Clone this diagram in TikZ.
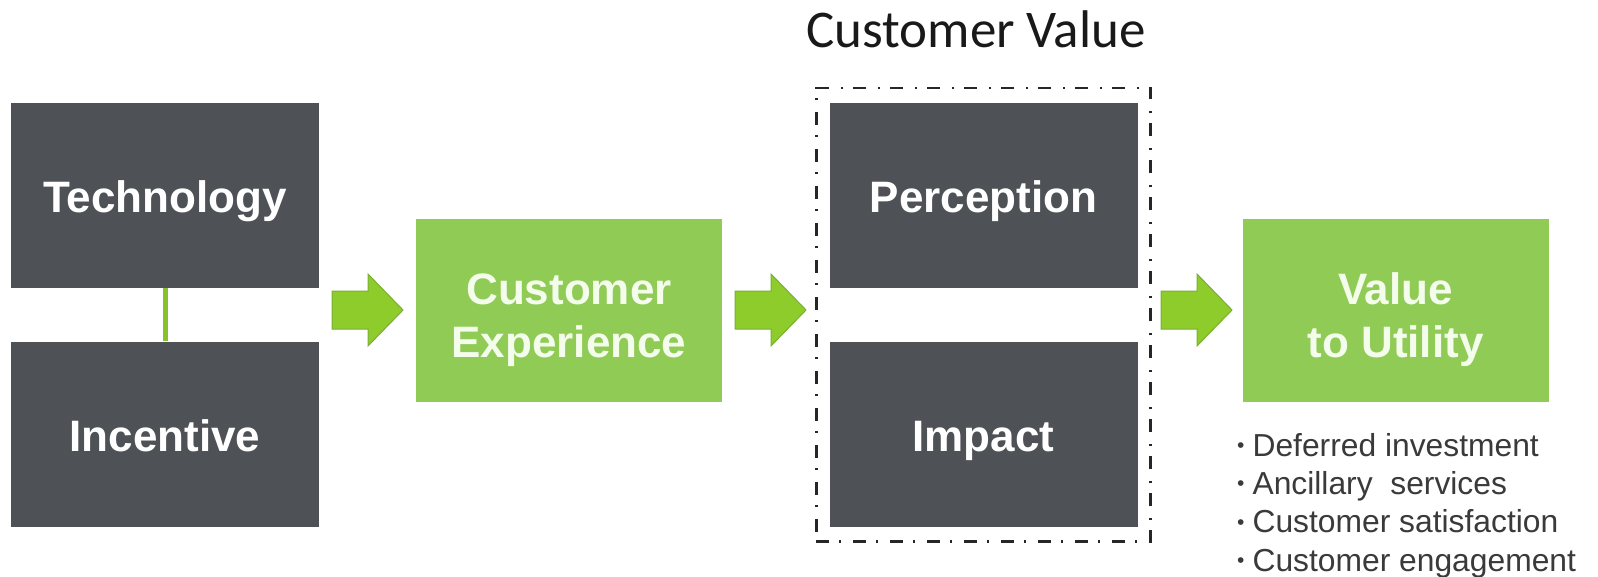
\documentclass[tikz,border=0pt]{standalone}
\usepackage{fontspec}
\setmainfont{Liberation Sans}
\newfontfamily\carlito{Carlito}
\usetikzlibrary{fit}
\definecolor{boxgray}{HTML}{4E5256}
\definecolor{boxgreen}{HTML}{8FCB55}
\definecolor{arrowgreen}{HTML}{8DCC2A}
\definecolor{arrowedge}{HTML}{7AAE36}
\definecolor{lighttext}{HTML}{F4FCEC}
\definecolor{bullettext}{HTML}{3A3A3A}
\newcommand\bul{\raisebox{0.22ex}{\fontsize{21}{21}\selectfont •}\hspace{8pt}}
\begin{document}
\begin{tikzpicture}[x=1pt,y=-1pt,
  graybox/.style={fill=boxgray, minimum width=308pt, minimum height=185pt, inner sep=0pt,
    text=white, font=\fontsize{44}{53}\selectfont\bfseries, align=center,
    text height=44pt, text depth=10pt},
  greenbox/.style={graybox, fill=boxgreen, text=lighttext, minimum width=306pt, minimum height=183pt,
    text height=100pt, text depth=6pt},
  blockarr/.pic={\filldraw[fill=arrowgreen, draw=arrowedge, line width=1pt, line join=miter]
     (0,-19) -- (36,-19) -- (36,-36) -- (71,0) -- (36,36) -- (36,19) -- (0,19) -- cycle;},
  cvframe/.style={draw=black!85, line width=2.6pt, dash pattern=on 13pt off 10pt on 2pt off 12pt},
  ]
\useasboundingbox[fill=white] (0,0) rectangle (1598,576);

% left column
\node[graybox] (tech) at (165,195) {Technology};
\node[graybox] (inc) at (165,434) {Incentive};
\draw[arrowgreen!95!black, line width=5pt] (tech.south) -- (inc.north);

% customer experience
\node[greenbox] (cx) at (569,310) {Customer\\Experience};

% customer value group
\node[graybox] (perc) at (983.5,195.5) {Perception};
\node[graybox] (imp) at (983.5,434) {Impact};
\node[cvframe, fit=(perc)(imp), inner xsep=13pt, inner ysep=15pt] (cvbox) {};
\node[font=\carlito\fontsize{53}{60}\selectfont, anchor=base, text=black!90] (cvtitle) at (976,47) {Customer Value};

% value to utility
\node[greenbox] (val) at (1395.5,310) {Value\\to Utility};

% block arrows
\pic at (332,310) {blockarr};
\pic at (735,310) {blockarr};
\pic at (1161,310) {blockarr};

% bullets
\node[anchor=north west, inner sep=0pt, align=left, text=bullettext,
      font=\fontsize{31.8}{38.3}\selectfont] (bullets) at (1237,433)
  {\bul Deferred investment\\
   \bul Ancillary\ \ services\\
   \bul Customer satisfaction\\
   \bul Customer engagement};
\end{tikzpicture}
\end{document}
